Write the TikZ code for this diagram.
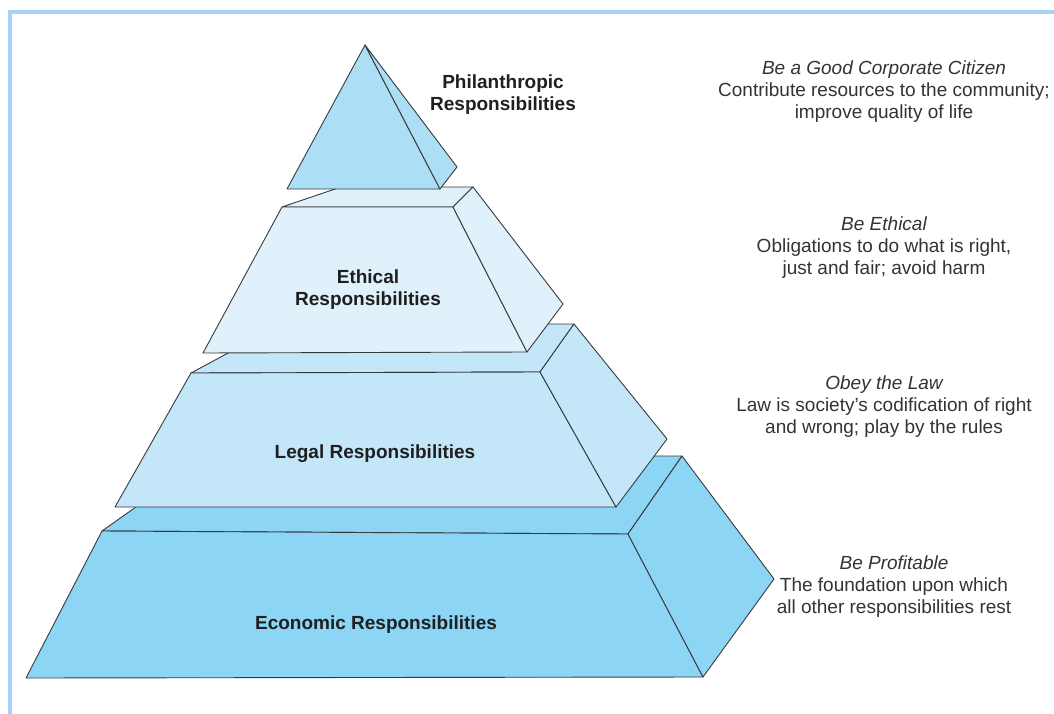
\documentclass[tikz,border=0pt]{standalone}
\usepackage{fontspec}
\setmainfont{Liberation Sans}
\definecolor{philblue}{RGB}{172,222,246}
\definecolor{ethblue}{RGB}{224,241,251}
\definecolor{legblue}{RGB}{196,230,249}
\definecolor{ecoblue}{RGB}{140,213,245}
\definecolor{frameblue}{RGB}{168,210,250}
\definecolor{edgegray}{RGB}{55,58,60}
\tikzset{
  face/.style={draw=edgegray,line width=0.9pt,line join=round},
  layerlabel/.style={font=\fontsize{19}{22}\selectfont\bfseries,text=black!88,align=center,inner sep=0pt},
  note/.style={font=\fontsize{19}{22}\selectfont,text=black!80,align=center,inner sep=0pt}
}
\begin{document}
\begin{tikzpicture}[x=1pt,y=-1pt]
\useasboundingbox (0,0) rectangle (1054,714);
\draw[line width=4pt,frameblue] (10,714) -- (10,12) -- (1054,12);
% economic
\draw[face,fill=ecoblue] (102,531) -- (208,456) -- (682,456) -- (628,534) -- cycle;
\draw[face,fill=ecoblue] (102,531) -- (628,534) -- (703,677) -- (26,678) -- cycle;
\draw[face,fill=ecoblue] (628,534) -- (682,456) -- (774,579) -- (703,677) -- cycle;
% legal
\draw[face,fill=legblue] (191,373) -- (282,324) -- (574,324) -- (540,372) -- cycle;
\draw[face,fill=legblue] (191,373) -- (540,372) -- (616,507) -- (115,507) -- cycle;
\draw[face,fill=legblue] (540,372) -- (574,324) -- (667,439) -- (616,507) -- cycle;
% ethical
\draw[face,fill=ethblue] (282,207) -- (341,187) -- (473,187) -- (453,207) -- cycle;
\draw[face,fill=ethblue] (282,207) -- (453,207) -- (527,352) -- (203,353) -- cycle;
\draw[face,fill=ethblue] (453,207) -- (473,187) -- (563,304) -- (527,352) -- cycle;
% philanthropic
\draw[face,fill=philblue] (365,45) -- (440,189) -- (287,189) -- cycle;
\draw[face,fill=philblue] (365,45) -- (457,167) -- (440,189) -- cycle;

\node[layerlabel] (phil) at (503,95) {Philanthropic\\Responsibilities};
\node[layerlabel] (eth) at (368,290) {Ethical\\Responsibilities};
\node[layerlabel] (leg) at (375,454) {Legal Responsibilities};
\node[layerlabel] (eco) at (376,625) {Economic Responsibilities};

\node[note] (citizen) at (884,92) {\itshape Be a Good Corporate Citizen\\Contribute resources to the community;\\improve quality of life};
\node[note] (ethical) at (884,248) {\itshape Be Ethical\\Obligations to do what is right,\\just and fair; avoid harm};
\node[note] (law) at (884,407) {\itshape Obey the Law\\Law is society’s codification of right\\and wrong; play by the rules};
\node[note] (profit) at (894,587) {\itshape Be Profitable\\The foundation upon which\\all other responsibilities rest};
\end{tikzpicture}
\end{document}
